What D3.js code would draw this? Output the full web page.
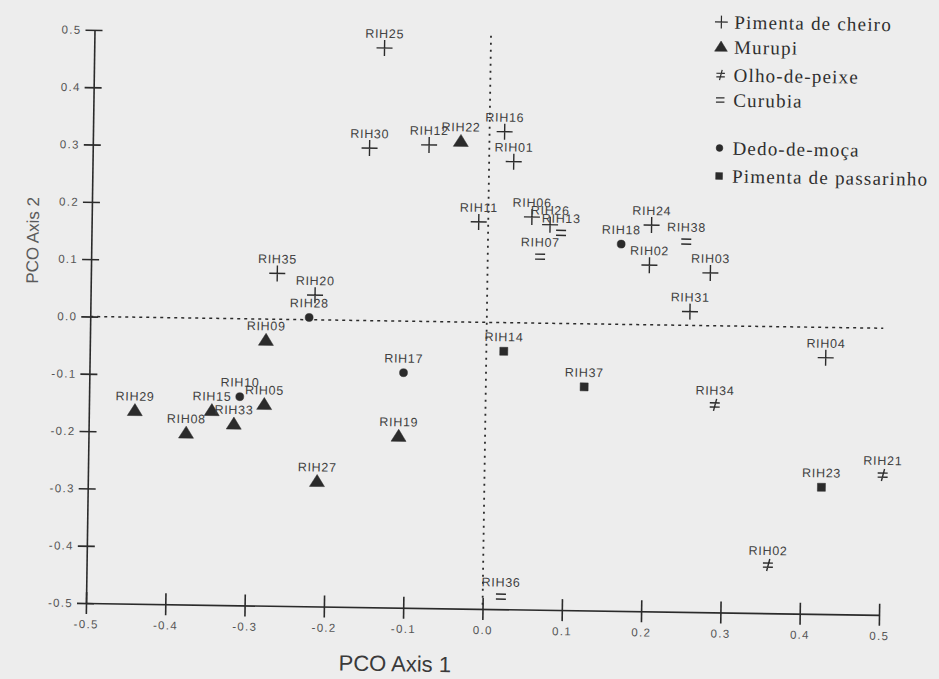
<!DOCTYPE html>
<html>
<head>
<meta charset="utf-8">
<script src="https://cdn.jsdelivr.net/npm/d3@7"></script>
<style>
  html, body { margin: 0; padding: 0; background: #ededed; }
  svg { display: block; }
</style>
</head>
<body>
<svg id="chart" width="939" height="679"></svg>
<script>
// ---------- data ----------
const accessions = ["RIH25","RIH30","RIH12","RIH22","RIH16","RIH01","RIH11","RIH06","RIH26","RIH13","RIH07",
  "RIH24","RIH18","RIH02","RIH38","RIH03","RIH31","RIH04","RIH37","RIH34","RIH23","RIH21","RIH02","RIH36",
  "RIH14","RIH28","RIH35","RIH20","RIH09","RIH17","RIH10","RIH05","RIH15","RIH33","RIH08","RIH29","RIH19","RIH27"];
const groups = ["cheiro","cheiro","cheiro","murupi","cheiro","cheiro","cheiro","cheiro","cheiro","curubia","curubia",
  "cheiro","dedo","cheiro","curubia","cheiro","cheiro","cheiro","passarinho","olho","passarinho","olho","olho","curubia",
  "passarinho","dedo","cheiro","cheiro","murupi","dedo","dedo","murupi","murupi","murupi","murupi","murupi","murupi","murupi"];
const pcoAxis1 = [-0.134,-0.151,-0.076,-0.036,0.019,0.031,-0.012,0.055,0.078,0.092,0.066,
  0.206,0.168,0.204,0.250,0.281,0.256,0.428,0.124,0.289,0.425,0.502,0.359,0.023,
  0.022,-0.224,-0.265,-0.217,-0.278,-0.104,-0.310,-0.279,-0.345,-0.317,-0.377,-0.442,-0.109,-0.211];
const pcoAxis2 = [0.476,0.301,0.308,0.315,0.333,0.281,0.175,0.185,0.172,0.158,0.116,
  0.174,0.140,0.104,0.146,0.092,0.024,-0.053,-0.110,-0.138,-0.279,-0.256,-0.416,-0.478,
  -0.050,0.004,0.080,0.043,-0.037,-0.090,-0.136,-0.149,-0.161,-0.184,-0.201,-0.163,-0.201,-0.282];

const legendKeys = ["cheiro","murupi","olho","curubia","dedo","passarinho"];
const legendNames = ["Pimenta de cheiro","Murupi","Olho-de-peixe","Curubia","Dedo-de-moça","Pimenta de passarinho"];

const xTicks = [-0.5,-0.4,-0.3,-0.2,-0.1,0.0,0.1,0.2,0.3,0.4,0.5];
const xTickLabels = ["-0.5","-0.4","-0.3","-0.2","-0.1","0.0","0.1","0.2","0.3","0.4","0.5"];
const yTicks = [0.5,0.4,0.3,0.2,0.1,0.0,-0.1,-0.2,-0.3,-0.4,-0.5];
const yTickLabels = ["0.5","0.4","0.3","0.2","0.1","0.0","-0.1","-0.2","-0.3","-0.4","-0.5"];

const xTitle = "PCO Axis 1";
const yTitle = "PCO Axis 2";

// ---------- layout ----------
const svg = d3.select("#chart");
svg.append("rect").attr("width",939).attr("height",679).attr("fill","#ededed");

// the scanned figure is slightly rotated
const g = svg.append("g").attr("transform","rotate(0.85,482,316)");

const x = d3.scaleLinear().domain([-0.5,0.5]).range([90.3,883.4]);
const y = d3.scaleLinear().domain([-0.5,0.5]).range([608.9,35.7]);

const ink = "#2b2b2b";
const sans = "'Liberation Sans', Arial, sans-serif";

// symbol paths
function symbolPath(grp, s) {
  s = s || 1;
  const k = v => (v*s).toFixed(2);
  switch (grp) {
    case "cheiro": return `M${k(-8)},0H${k(8)}M0,${k(-8)}V${k(8)}`;
    case "murupi": return `M0,${k(-7)}L${k(7.5)},${k(5)}L${k(-7.5)},${k(5)}Z`;
    case "olho": return `M${k(-5)},${k(-2)}H${k(5)}M${k(-5)},${k(2.2)}H${k(5)}M${k(1.8)},${k(-6)}L${k(-1.2)},${k(6)}`;
    case "curubia": return `M${k(-5)},${k(-2.5)}H${k(5)}M${k(-5)},${k(2.5)}H${k(5)}`;
    case "dedo": return d3.symbol(d3.symbolCircle, 50*s*s)();
    case "passarinho": return `M${k(-4)},${k(-4)}H${k(4)}V${k(4)}H${k(-4)}Z`;
  }
}
const filled = grp => grp === "murupi" || grp === "dedo" || grp === "passarinho";

// ---------- reference lines ----------
g.append("line")
  .attr("x1", x(-0.5)).attr("x2", x(0.5))
  .attr("y1", y(0)).attr("y2", y(0))
  .attr("stroke", ink).attr("stroke-width", 1.5).attr("stroke-dasharray","3,4");
g.append("line")
  .attr("x1", x(0)).attr("x2", x(0))
  .attr("y1", y(0.5)).attr("y2", y(-0.5))
  .attr("stroke", ink).attr("stroke-width", 1.8).attr("stroke-dasharray","2,5");

// ---------- axes ----------
const xAxis = d3.axisBottom(x).tickValues(xTicks).tickFormat((d,i)=>xTickLabels[i])
  .tickSizeInner(11).tickSizeOuter(0).tickPadding(6);
const gx = g.append("g").attr("transform",`translate(0,${y(-0.5)})`).call(xAxis);
gx.select(".domain").attr("stroke", ink).attr("stroke-width", 1.6);
gx.selectAll(".tick line").attr("y1",-11).attr("y2",11).attr("stroke", ink).attr("stroke-width",1.6);
gx.selectAll(".tick text").attr("fill","#555").attr("font-size",11.5).attr("font-family",sans)
  .attr("letter-spacing","1.3px");

const yAxis = d3.axisLeft(y).tickValues(yTicks).tickFormat((d,i)=>yTickLabels[i])
  .tickSizeInner(9).tickSizeOuter(0).tickPadding(4);
const gy = g.append("g").attr("transform",`translate(${x(-0.5)},0)`).call(yAxis);
gy.select(".domain").attr("stroke", ink).attr("stroke-width", 1.6);
gy.selectAll(".tick line").attr("x1",8).attr("x2",-9).attr("stroke", ink).attr("stroke-width",1.6);
gy.selectAll(".tick text").attr("fill","#555").attr("font-size",11.5).attr("font-family",sans)
  .attr("letter-spacing","1.3px");

// axis titles
g.append("text").attr("x", 400).attr("y", 665).attr("text-anchor","middle")
  .attr("dominant-baseline","central").attr("font-family",sans).attr("font-size",22)
  .attr("fill","#3a3a3a").text(xTitle);
g.append("text").attr("transform","translate(32,247) rotate(-90)").attr("text-anchor","middle")
  .attr("dominant-baseline","central").attr("font-family",sans).attr("font-size",17)
  .attr("fill","#5a5a5a").text(yTitle);

// ---------- points ----------
const pts = accessions.map((n,i)=>({name:n, grp:groups[i], vx:pcoAxis1[i], vy:pcoAxis2[i]}));

const pg = g.append("g");
pg.selectAll("path.pt").data(pts).join("path")
  .attr("class","pt")
  .attr("transform", d=>`translate(${x(d.vx)},${y(d.vy)})`)
  .attr("d", d=>symbolPath(d.grp))
  .attr("fill", d=>filled(d.grp) ? ink : "none")
  .attr("stroke", ink)
  .attr("stroke-width", d=>filled(d.grp) ? 0.5 : 1.4);

pg.selectAll("text.lbl").data(pts).join("text")
  .attr("class","lbl")
  .attr("x", d=>x(d.vx)).attr("y", d=>y(d.vy)-10)
  .attr("text-anchor","middle")
  .attr("font-family",sans).attr("font-size",12.5)
  .attr("letter-spacing","0.7px")
  .attr("fill","#3f3f3f")
  .text(d=>d.name);

// ---------- legend ----------
const legendRowY = [18.5, 43.5, 71.5, 96.5, 144.5, 172.5];
const lg = g.append("g");
legendKeys.forEach((k,i)=>{
  const cy = legendRowY[i];
  const sc = k === "cheiro" ? 0.8 : 0.85;
  lg.append("path")
    .attr("transform",`translate(717,${cy})`)
    .attr("d", symbolPath(k, sc))
    .attr("fill", filled(k) ? ink : "none")
    .attr("stroke", ink)
    .attr("stroke-width", filled(k) ? 0.5 : 1.2);
  lg.append("text")
    .attr("x", 730).attr("y", cy)
    .attr("dominant-baseline","central")
    .attr("font-family","'Liberation Serif', 'DejaVu Serif', serif")
    .attr("font-size",19).attr("letter-spacing","1.2px")
    .attr("fill","#2f2f2f")
    .text(legendNames[i]);
});
</script>
</body>
</html>
